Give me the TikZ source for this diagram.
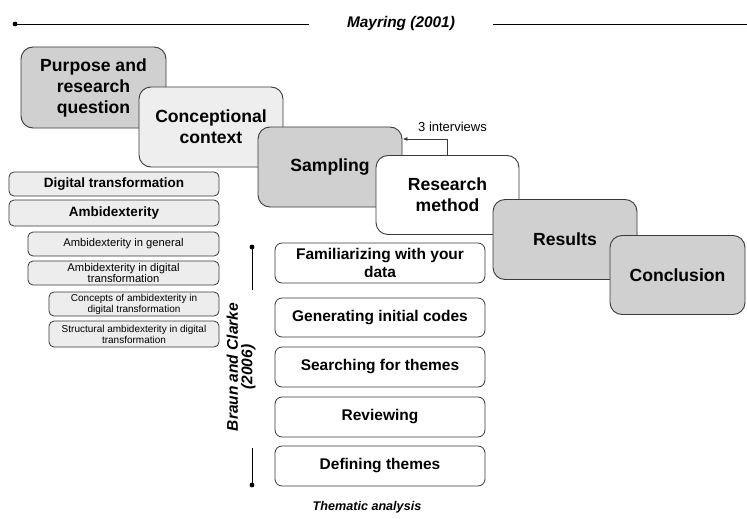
\documentclass[tikz,border=0pt]{standalone}
\usepackage{fontspec}
\setmainfont{Liberation Sans}
\usetikzlibrary{arrows.meta}
\definecolor{linec}{HTML}{3A3A3A}
\definecolor{darkfill}{HTML}{D0D0D0}
\definecolor{paleFill}{HTML}{EEEEEE}
\definecolor{topicfill}{HTML}{EDEDED}
\tikzset{
  stage/.style={draw=linec, rounded corners=12pt, line width=0.9pt, inner sep=0pt,
    align=center, font=\fontsize{17.6}{21}\selectfont\bfseries},
  topic/.style={draw=linec, fill=topicfill, rounded corners=5pt, line width=0.8pt,
    inner sep=0pt, align=center, font=\fontsize{13.5}{15}\selectfont\bfseries},
  subtopic/.style={topic, font=\fontsize{11.2}{11.5}\selectfont},
  smallsub/.style={topic, font=\fontsize{10}{11}\selectfont},
  phase/.style={draw=linec, fill=white, rounded corners=7pt, line width=0.8pt,
    inner sep=0pt, align=center, font=\fontsize{15.5}{18}\selectfont\bfseries,
    minimum width=210pt, minimum height=40pt},
  heading/.style={font=\fontsize{15.4}{18}\selectfont\bfseries\itshape, inner sep=0pt},
  rule/.style={line width=0.9pt, draw=black},
}
\begin{document}
\begin{tikzpicture}[x=1pt,y=-1pt]
\useasboundingbox[fill=white] (0,0) rectangle (747,519);

% Mayring header line
\node[heading] (mayr) at (401,24) {Mayring (2001)};
\coordinate (hl) at (15,24);
\coordinate (hr) at (747,24);
\fill (hl) circle (2.4pt);
\draw[rule] (hl) -- ([xshift=-38pt]mayr.west);
\draw[rule] ([xshift=38pt]mayr.east) -- (hr);

% Process stages, each overlapping the previous one
\node[stage, fill=darkfill, minimum width=145pt, minimum height=81pt] (purp) at (93.5,87.5)
  {Purpose and\\research\\question};
\node[stage, fill=paleFill, minimum width=144pt, minimum height=80pt] (conc) at (211,127)
  {Conceptional\\context};
\node[stage, fill=darkfill, minimum width=144pt, minimum height=80pt] (samp) at (330,167)
  {Sampling};
\node[stage, fill=white, minimum width=143pt, minimum height=79pt] (rmeth) at (447.5,195)
  {Research\\method};
\node[stage, fill=darkfill, minimum width=144pt, minimum height=80pt] (res) at (565,239.5)
  {Results};
\node[stage, fill=darkfill, minimum width=135pt, minimum height=79pt] (concl) at (677.5,275)
  {Conclusion};

% Feedback from the research method to sampling
\coordinate (ivbend) at (447,139);
\draw[linec, line width=0.8pt, -{Latex[length=5pt,width=4pt]}]
  (rmeth.north -| ivbend) -- (ivbend) -- (samp.east |- ivbend);
\node[font=\fontsize{13}{15}\selectfont, inner sep=0pt] (ivlab) at (452.5,127) {3 interviews};

% Conceptual topics
\node[topic, minimum width=210pt, minimum height=24pt] (dt) at (114,184) {Digital transformation};
\node[topic, minimum width=210pt, minimum height=26pt] (amb) at (114,213) {Ambidexterity};
\node[subtopic, minimum width=191pt, minimum height=24pt] (ag) at (123.5,244) {Ambidexterity in general};
\node[subtopic, minimum width=191pt, minimum height=24pt] (adt) at (123.5,273)
  {Ambidexterity in digital\\transformation};
\node[smallsub, minimum width=170pt, minimum height=24pt] (cadt) at (134,304)
  {Concepts of ambidexterity in\\digital transformation};
\node[smallsub, minimum width=170pt, minimum height=26pt] (sadt) at (134,334)
  {Structural ambidexterity in digital\\transformation};

% Thematic analysis phases
\node[phase] (fam) at (380,263) {Familiarizing with your\\data};
\node[phase, minimum height=39pt] (gen) at (380,317.5) {Generating initial codes};
\node[phase] (sea) at (380,367) {Searching for themes};
\node[phase] (rev) at (380,417) {Reviewing};
\node[phase] (def) at (380,466) {Defining themes};
\node[heading, font=\fontsize{12.6}{15}\selectfont\bfseries\itshape] (tha) at (367,507) {Thematic analysis};

% Braun and Clarke bracket
\node[heading, rotate=90, align=center, font=\fontsize{15.5}{14.5}\selectfont\bfseries\itshape]
  (bc) at (241,367) {Braun and Clarke\\(2006)};
\coordinate (bt) at (252,247);
\coordinate (bb) at (252,485);
\fill (bt) circle (2.4pt);
\fill (bb) circle (2.4pt);
\draw[rule] (bt) -- (bt |- 0,290);
\draw[rule] (bb |- 0,448) -- (bb);
\end{tikzpicture}
\end{document}
